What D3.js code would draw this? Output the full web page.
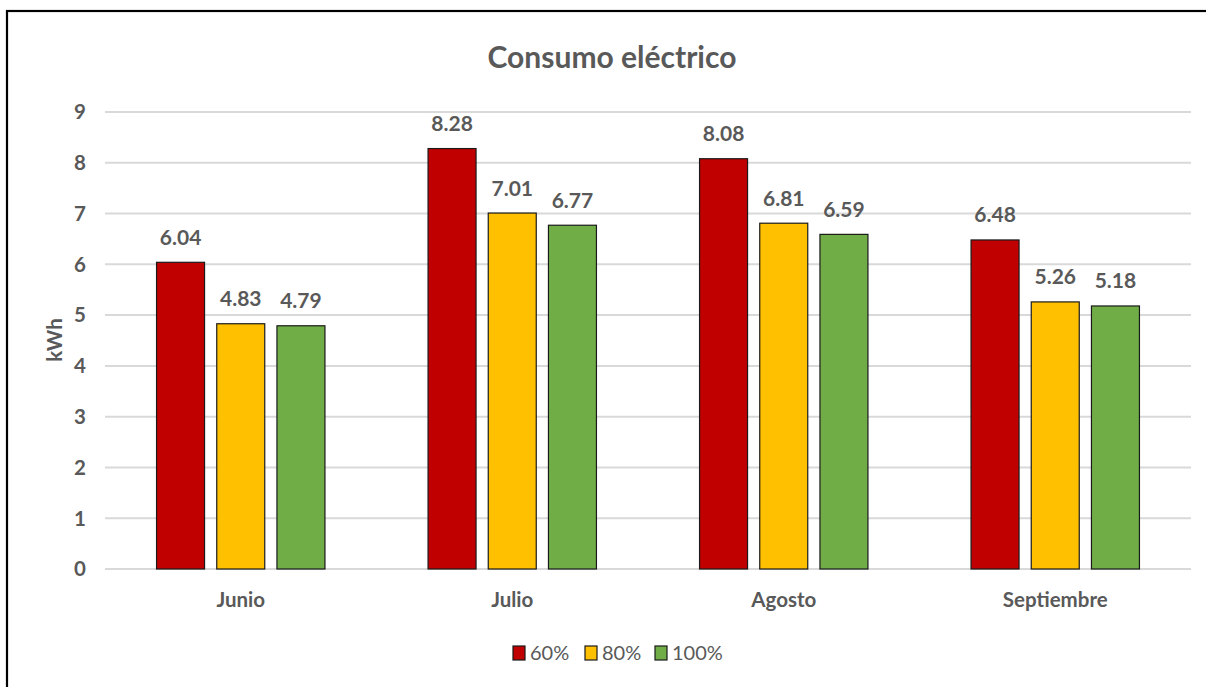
<!DOCTYPE html>
<html><head><meta charset="utf-8">
<script src="https://cdn.jsdelivr.net/npm/d3@7"></script>
<style>
html,body{margin:0;padding:0;background:#fff;}
svg{display:block;font-family:Lato, "Open Sans", sans-serif;}
</style></head>
<body>
<svg id="chart" width="1206" height="687"></svg>
<script>
const categories = ["Junio", "Julio", "Agosto", "Septiembre"];
const seriesNames = ["60%", "80%", "100%"];
const values60 = [6.04, 8.28, 8.08, 6.48];
const values80 = [4.83, 7.01, 6.81, 5.26];
const values100 = [4.79, 6.77, 6.59, 5.18];
const yTicks = [0, 1, 2, 3, 4, 5, 6, 7, 8, 9];
const colors = ["#C00000", "#FFC000", "#70AD47"];
const title = "Consumo eléctrico";
const yLabel = "kWh";

const seriesValues = [values60, values80, values100];
const data = categories.map((c, i) => ({cat: c, vals: seriesNames.map((s, j) => ({s, v: seriesValues[j][i], j}))}));

const svg = d3.select("#chart");
const textColor = "#595959";

// frame
svg.append("rect").attr("x", 7).attr("y", 11).attr("width", 1230).attr("height", 700)
  .attr("fill", "none").attr("stroke", "#000").attr("stroke-width", 2.2);

const y = d3.scaleLinear().domain([0, 9]).range([569, 112]);
const x0 = d3.scaleBand().domain(categories).range([105, 1191]).padding(0);
const x1 = d3.scaleBand().domain(seriesNames).range([-84.2, 84.2]).paddingInner(0.2027).paddingOuter(0);

// gridlines
svg.append("g").selectAll("line").data(yTicks).join("line")
  .attr("x1", 105).attr("x2", 1191)
  .attr("y1", d => y(d)).attr("y2", d => y(d))
  .attr("stroke", "#D9D9D9").attr("stroke-width", 2);

// y tick labels
svg.append("g").selectAll("text").data(yTicks).join("text")
  .attr("x", 86).attr("y", d => y(d)).attr("dy", "0.36em")
  .attr("text-anchor", "end").attr("fill", textColor)
  .attr("font-size", 20.5).attr("font-weight", "bold")
  .text(d => d);

// bars
const groups = svg.append("g").selectAll("g").data(data).join("g")
  .attr("transform", d => `translate(${x0(d.cat) + x0.bandwidth() / 2},0)`);

groups.selectAll("rect").data(d => d.vals).join("rect")
  .attr("x", d => x1(d.s)).attr("width", x1.bandwidth())
  .attr("y", d => y(d.v)).attr("height", d => y(0) - y(d.v))
  .attr("fill", d => colors[d.j]).attr("stroke", "#1a1a1a").attr("stroke-width", 1.2);

groups.selectAll("text").data(d => d.vals).join("text")
  .attr("x", d => x1(d.s) + x1.bandwidth() / 2).attr("y", d => y(d.v) - 17.5)
  .attr("text-anchor", "middle").attr("fill", textColor)
  .attr("font-size", 21).attr("font-weight", "bold")
  .text(d => d.v.toFixed(2));

// category labels
svg.append("g").selectAll("text").data(categories).join("text")
  .attr("x", d => x0(d) + x0.bandwidth() / 2).attr("y", 607)
  .attr("text-anchor", "middle").attr("fill", textColor)
  .attr("font-size", 20.5).attr("font-weight", "bold")
  .text(d => d);

// y axis label
svg.append("text").attr("transform", "translate(55,340) rotate(-90)")
  .attr("text-anchor", "middle").attr("dy", "0.36em")
  .attr("fill", textColor).attr("font-size", 20.5).attr("font-weight", "bold")
  .text(yLabel);

// title
svg.append("text").attr("x", 612).attr("y", 68).attr("text-anchor", "middle")
  .attr("fill", textColor).attr("font-size", 30).attr("font-weight", "bold")
  .text(title);

// legend
const legendX = [513, 585, 655];
const leg = svg.append("g").selectAll("g").data(seriesNames).join("g")
  .attr("transform", (d, i) => `translate(${legendX[i]},646)`);
leg.append("rect").attr("width", 12).attr("height", 14)
  .attr("fill", (d, i) => colors[i]).attr("stroke", "#1a1a1a").attr("stroke-width", 1.2);
leg.append("text").attr("x", 17).attr("y", 7).attr("dy", "0.36em")
  .attr("fill", textColor).attr("font-size", 20)
  .text(d => d);
</script>
</body></html>
